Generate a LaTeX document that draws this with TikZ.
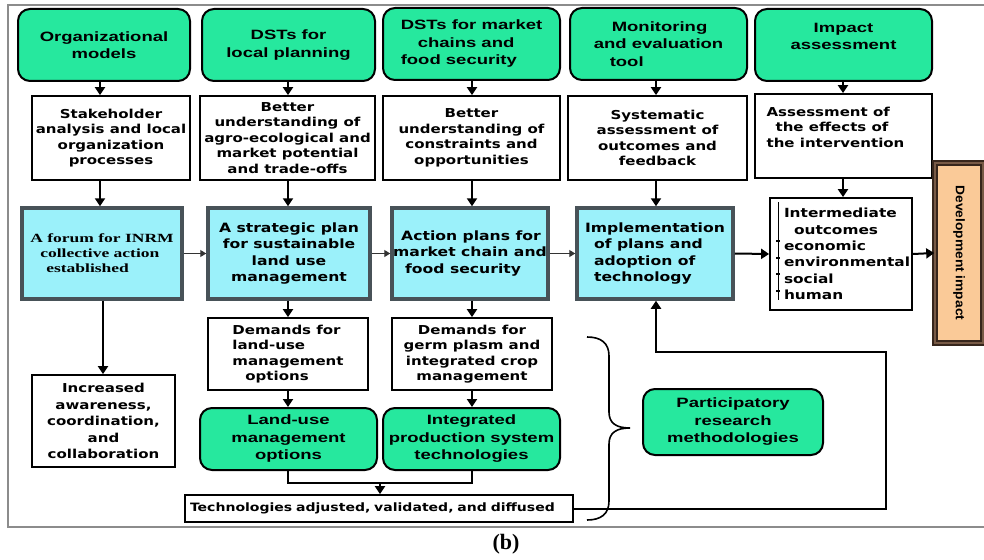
\documentclass[tikz,border=0pt]{standalone}
\usepackage{fontspec}
\usepackage{graphicx}
\usetikzlibrary{arrows.meta}
\newfontfamily\gfont{Liberation Sans}[FakeStretch=1.37]
\newfontfamily\wfont{DejaVu Sans}[FakeStretch=1.22]
\newfontfamily\sfont{Liberation Serif}[FakeStretch=1.4]
\newfontfamily\dfont{Liberation Sans}[FakeStretch=1.1]
\newfontfamily\capfont{Liberation Serif}
\definecolor{gbox}{RGB}{38,232,158}
\definecolor{cbox}{RGB}{155,241,250}
\definecolor{cedge}{RGB}{72,82,88}
\definecolor{peach}{RGB}{250,202,152}
\definecolor{devdark}{RGB}{55,38,28}
\definecolor{devmid}{RGB}{120,90,70}
\definecolor{framegray}{RGB}{140,140,140}
\tikzset{
  greenbox/.style={draw=black, line width=2pt, rounded corners=12pt, fill=gbox,
    font=\gfont\bfseries\fontsize{13.5}{17.5}\selectfont, align=center, inner sep=1pt},
  whitebox/.style={draw=black, line width=1.8pt, fill=white,
    font=\wfont\bfseries\fontsize{12.3}{15.5}\selectfont, align=center, inner sep=1pt},
  cyanbox/.style={draw=cedge, line width=3.5pt, fill=cbox,
    font=\wfont\bfseries\fontsize{12.8}{16.5}\selectfont, align=center, inner sep=1pt},
  devbox/.style={draw=devdark, line width=1.6pt, double=devmid, double distance=2.5pt, fill=peach,
    font=\dfont\bfseries\fontsize{12.5}{15}\selectfont, inner sep=0pt},
  arr/.style={line width=2pt, -{Triangle[width=10pt,length=8pt]}},
  thinarr/.style={line width=1.2pt, draw=black!80, -{Triangle[width=7pt,length=6pt]}},
  link/.style={line width=2pt},
  bracepath/.style={line width=1.6pt},
}
\begin{document}
\begin{tikzpicture}[x=1pt,y=-1pt]
\useasboundingbox (0,0) rectangle (984,559);
\fill[white] (0,0) rectangle (984,559);
% frame
\draw[framegray, line width=1.2pt] (984,5) -- (8,5) -- (8,527) -- (984,527);

% top row: tools
\node[greenbox, minimum width=172pt, minimum height=72pt] (g1) at (104,45) {Organizational\\models};
\node[greenbox, minimum width=173pt, minimum height=72pt] (g2) at (288.5,45) {DSTs for\\local planning};
\node[greenbox, minimum width=177pt, minimum height=72pt, align=left] (g3) at (471.5,44) {DSTs for market\\\hspace*{17pt}chains and\\food security};
\node[greenbox, minimum width=177pt, minimum height=72pt, align=left] (g4) at (658.5,44) {\hspace*{18pt}Monitoring\\and evaluation\\\hspace*{16pt}tool};
\node[greenbox, minimum width=177pt, minimum height=72pt] (g5) at (843.5,45) {Impact\\assessment\\\mbox{}};

% second row: understanding
\node[whitebox, minimum width=158pt, minimum height=84pt] (w1) at (111,138) {Stakeholder\\analysis and local\\organization\\processes};
\node[whitebox, minimum width=175pt, minimum height=84pt] (w2) at (287.5,138) {Better\\understanding of\\agro-ecological and\\market potential\\and trade-offs};
\node[whitebox, minimum width=177pt, minimum height=84pt] (w3) at (471.5,138) {Better\\understanding of\\constraints and\\opportunities};
\node[whitebox, minimum width=179pt, minimum height=84pt] (w4) at (657.5,138) {Systematic\\assessment of\\outcomes and\\feedback};
\node[whitebox, minimum width=177pt, minimum height=84pt, align=left] (w5) at (843.5,136) {Assessment of\\\hspace*{9pt}the effects of\\the intervention\makebox[16pt]{}\\[2pt]\mbox{}};

% third row: plans
\node[cyanbox, minimum width=160pt, minimum height=91pt, align=left,
  font=\sfont\bfseries\fontsize{12.5}{15}\selectfont] (b1) at (102,253.5)
  {A forum for INRM\\\hspace*{10pt}collective action\\\hspace*{16pt}established};
\node[cyanbox, minimum width=162pt, minimum height=91pt] (b2) at (289,253.5) {A strategic plan\\for sustainable\\land use\\management};
\node[cyanbox, minimum width=156pt, minimum height=91pt, align=left] (b3) at (470,253.5) {\hspace*{8pt}Action plans for\\market chain and\\\hspace*{12pt}food security};
\node[cyanbox, minimum width=156pt, minimum height=91pt, align=left] (b4) at (655,253.5) {Implementation\\\hspace*{9pt}of plans and\\\hspace*{9pt}adoption of\\\hspace*{9pt}technology};
\node[whitebox, text width=114pt, inner xsep=14pt, minimum height=112pt, align=left,
  font=\wfont\bfseries\fontsize{12.6}{16.4}\selectfont] (i5) at (841,254)
  {Intermediate\\\hspace*{10pt}outcomes\\economic\\environmental\\social\\human};
\node[devbox, minimum width=48pt, minimum height=180pt] (dev) at (959,253)
  {\rotatebox{-90}{Development impact}};

% fourth row: demands
\node[whitebox, minimum width=160pt, minimum height=72pt, align=left] (w6) at (288,354) {Demands for\\land-use\\management\\\hspace*{13pt}options};
\node[whitebox, minimum width=160pt, minimum height=72pt] (w7) at (472,354) {Demands for\\germ plasm and\\integrated crop\\management};
\node[whitebox, minimum width=143pt, minimum height=92pt, font=\wfont\bfseries\fontsize{12.3}{16.5}\selectfont] (aw) at (103.5,421) {Increased\\awareness,\\coordination,\\and\\collaboration};

% fifth row: options and technologies
\node[greenbox, minimum width=177pt, minimum height=62pt] (g6) at (288.5,439) {Land-use\\management\\options};
\node[greenbox, minimum width=177pt, minimum height=62pt] (g7) at (471.5,439) {Integrated\\production system\\technologies};
\node[greenbox, minimum width=180pt, minimum height=66pt] (pr) at (733,422) {Participatory\\research\\methodologies};
\node[whitebox, minimum height=27pt, text width=378pt, inner xsep=5pt, align=left,
  font=\wfont\bfseries\fontsize{11.5}{14}\selectfont] (tech) at (379,508.5) {Technologies adjusted, validated, and diffused};

% caption
\node[font=\capfont\bfseries\fontsize{22}{26}\selectfont] (cap) at (506,544) {(b)};

% bullet rule inside the outcomes box
\draw[line width=0.8pt] (778,202) -- (778,300);
\foreach \yy in {241,258,274,291} \draw[line width=1.2pt] (776,\yy) -- (780,\yy);

% column positions of the vertical arrows
\coordinate (c1) at (100,0);
\coordinate (c1b) at (103,0);
\coordinate (c2) at (288,0);
\coordinate (c3) at (472,0);
\coordinate (c4) at (656,0);
\coordinate (c5) at (843,0);
\coordinate (cm) at (380,0);

% tools -> understanding
\draw[arr] (g1.south -| c1) -- (w1.north -| c1);
\draw[arr] (g2.south -| c2) -- (w2.north -| c2);
\draw[arr] (g3.south -| c3) -- (w3.north -| c3);
\draw[arr] (g4.south -| c4) -- (w4.north -| c4);
\draw[arr] (g5.south -| c5) -- (w5.north -| c5);
% understanding -> plans
\draw[arr] (w1.south -| c1) -- (b1.north -| c1);
\draw[arr] (w2.south -| c2) -- (b2.north -| c2);
\draw[arr] (w3.south -| c3) -- (b3.north -| c3);
\draw[arr] (w4.south -| c4) -- (b4.north -| c4);
\draw[arr] (w5.south -| c5) -- (i5.north -| c5);
% plans chain
\draw[thinarr] (b1.east) -- (b2.west);
\draw[thinarr] (b2.east) -- (b3.west);
\draw[thinarr] (b3.east) -- (b4.west);
\draw[arr] (b4.east) -- (i5.west);
\draw[arr] (i5.east) -- (dev.west);
% downward branches
\draw[arr] (b1.south -| c1b) -- (aw.north -| c1b);
\draw[arr] (b2.south -| c2) -- (w6.north -| c2);
\draw[arr] (b3.south -| c3) -- (w7.north -| c3);
\draw[arr] (w6.south -| c2) -- (g6.north -| c2);
\draw[arr] (w7.south -| c3) -- (g7.north -| c3);
% merge into technologies
\coordinate (mj) at (380,483);
\draw[link] (g6.south -| c2) |- (mj) -| (g7.south -| c3);
\draw[arr] (mj) -- (tech.north -| cm);
% feedback loop
\coordinate (fb1) at (886,509);
\coordinate (fb2) at (886,352);
\draw[arr] (tech.east |- fb1) -- (fb1) -- (fb2) -| (b4.south -| c4);
% brace grouping the research steps
\coordinate (brtop) at (587,337);
\coordinate (brtip) at (630,428);
\coordinate (brbot) at (587,520);
\draw[bracepath] (brtop) .. controls (601,337) and (609,343) .. (609,356)
  -- (609,412) .. controls (609,423) and (616,428) .. (brtip)
  .. controls (616,428) and (609,433) .. (609,444)
  -- (609,501) .. controls (609,514) and (601,520) .. (brbot);
\end{tikzpicture}
\end{document}
